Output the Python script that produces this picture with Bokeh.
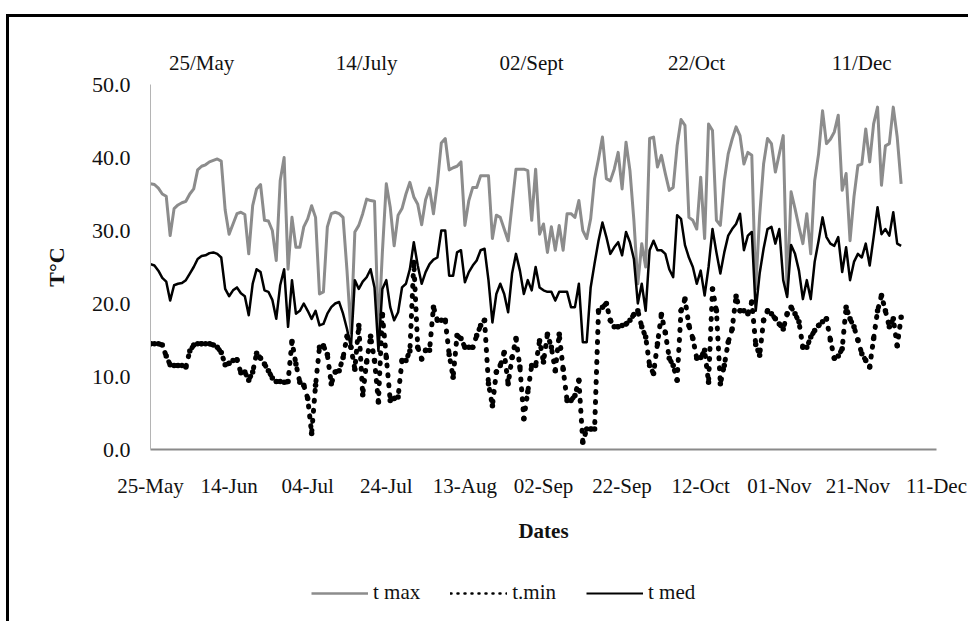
from bokeh.plotting import figure
from bokeh.layouts import column
from bokeh.models import (ColumnDataSource, FixedTicker, Range1d, LinearAxis,
                          Legend, LegendItem, PrintfTickFormatter)
from bokeh.embed import file_html
from bokeh.resources import INLINE

# Daily temperatures (degrees C) from 25-May
tmax = [36.4, 36.3, 35.8, 35.0, 34.7, 29.3, 33.0, 33.5, 33.8, 34.0,
        35.0, 35.7, 38.3, 38.8, 39.0, 39.4, 39.6, 39.8, 39.5, 32.8,
        29.5, 30.9, 32.3, 32.5, 32.2, 26.8, 33.4, 35.7, 36.3, 31.4,
        31.3, 30.0, 25.9, 36.8, 40.0, 24.7, 31.8, 27.7, 27.7, 30.5,
        31.6, 33.4, 31.8, 21.3, 21.6, 30.5, 32.3, 32.5, 32.3, 31.8,
        24.5, 16.0, 29.8, 30.7, 32.3, 34.3, 34.1, 34.0, 16.0, 27.0,
        36.4, 33.2, 27.9, 32.1, 33.0, 35.0, 36.6, 34.6, 33.6, 30.8,
        34.2, 35.8, 32.3, 36.5, 42.0, 42.6, 38.3, 38.6, 38.8, 39.4,
        30.7, 34.1, 35.9, 35.9, 37.5, 37.5, 37.5, 28.9, 32.1, 31.8,
        30.2, 28.6, 33.5, 38.4, 38.4, 38.4, 38.2, 31.4, 38.4, 29.5,
        30.9, 27.0, 30.5, 27.3, 30.7, 27.3, 32.3, 32.3, 31.8, 34.1,
        30.0, 28.9, 31.6, 37.1, 39.8, 42.8, 37.1, 36.8, 38.4, 40.7,
        35.7, 42.1, 38.2, 31.4, 22.7, 28.2, 25.0, 42.6, 42.8, 38.7,
        40.3, 37.8, 35.5, 35.9, 41.6, 45.2, 44.4, 31.8, 31.4, 30.2,
        37.3, 28.9, 44.6, 43.7, 31.4, 30.7, 36.8, 40.5, 42.5, 44.2,
        43.0, 39.1, 40.7, 40.3, 22.0, 32.0, 39.1, 42.6, 41.9, 38.0,
        40.5, 43.0, 21.3, 35.3, 33.0, 30.5, 28.2, 32.3, 26.8, 36.8,
        40.5, 46.4, 41.9, 42.5, 43.5, 45.8, 35.5, 37.8, 28.6, 34.6,
        38.9, 39.1, 43.9, 39.4, 44.6, 46.9, 36.2, 41.6, 41.9, 46.9,
        42.8, 36.4]

tmin = [14.5, 14.5, 14.5, 14.3, 12.8, 11.6, 11.5, 11.5, 11.5, 11.3,
        13.5, 14.3, 14.5, 14.5, 14.5, 14.5, 14.3, 14.0, 13.3, 11.6,
        11.8, 12.2, 12.3, 10.5, 10.6, 9.5, 10.6, 13.2, 12.5, 11.7,
        10.8, 9.8, 9.3, 9.3, 9.2, 9.3, 14.8, 11.7, 9.2, 8.8,
        7.0, 2.2, 8.8, 14.0, 14.2, 13.0, 9.0, 10.6, 10.8, 12.6,
        15.5, 14.0, 11.0, 17.0, 7.5, 12.0, 15.5, 12.2, 6.5, 18.5,
        12.6, 6.7, 7.0, 7.2, 12.2, 12.2, 13.5, 25.6, 14.0, 12.4,
        13.6, 13.6, 19.5, 17.7, 17.7, 17.7, 13.0, 9.9, 15.6, 15.2,
        14.0, 14.0, 14.0, 15.6, 17.0, 17.7, 9.0, 6.0, 10.6, 11.5,
        13.3, 9.0, 12.6, 15.2, 11.3, 4.2, 7.9, 11.5, 11.5, 14.9,
        12.0, 15.8, 14.0, 10.8, 15.8, 11.0, 6.7, 6.7, 7.4, 9.5,
        1.0, 2.8, 2.8, 2.8, 19.0, 19.5, 20.0, 17.7, 16.8, 16.8,
        17.0, 17.2, 17.7, 18.5, 19.0, 16.8, 15.4, 11.5, 10.4, 14.5,
        18.5, 16.0, 12.5, 11.5, 9.5, 19.0, 20.6, 17.0, 15.2, 12.5,
        12.6, 13.6, 9.2, 22.0, 19.0, 9.0, 11.5, 14.7, 16.5, 21.0,
        19.0, 19.0, 18.6, 20.2, 14.4, 12.9, 17.7, 19.0, 18.6, 17.9,
        17.2, 16.5, 18.6, 19.5, 18.6, 17.5, 14.0, 14.0, 15.4, 16.3,
        17.0, 17.5, 17.9, 15.0, 12.5, 12.8, 13.8, 19.5, 17.9, 16.8,
        15.0, 13.1, 12.2, 11.3, 15.2, 19.0, 21.1, 19.0, 16.8, 17.9,
        14.2, 18.1]

tmed = [25.4, 25.2, 24.5, 23.5, 23.0, 20.4, 22.5, 22.7, 22.8, 23.2,
        24.1, 25.0, 26.1, 26.5, 26.6, 26.9, 27.0, 26.8, 26.3, 22.0,
        21.0, 21.8, 22.2, 21.4, 21.0, 18.4, 22.7, 24.7, 24.3, 21.8,
        21.6, 20.5, 17.9, 22.5, 24.7, 16.8, 23.2, 18.6, 19.0, 20.0,
        19.0, 17.9, 19.0, 17.0, 17.2, 18.6, 19.5, 20.0, 20.2, 18.6,
        16.5, 14.0, 23.2, 22.0, 23.0, 23.6, 24.7, 22.2, 13.5, 22.0,
        23.2, 19.5, 17.7, 18.8, 22.2, 22.7, 24.7, 28.4, 25.2, 22.7,
        24.3, 25.4, 26.0, 26.3, 30.0, 30.0, 23.8, 23.8, 27.0, 27.3,
        22.9, 24.3, 25.2, 25.9, 27.3, 27.5, 23.2, 17.4, 21.3, 22.7,
        21.3, 18.8, 24.1, 26.8, 24.5, 21.3, 23.2, 21.8, 25.0, 22.2,
        21.8, 21.6, 21.6, 20.4, 21.6, 21.6, 21.6, 19.5, 19.5, 22.7,
        14.7, 14.7, 22.2, 25.5, 28.6, 31.1, 29.1, 26.8, 27.7, 28.4,
        26.6, 29.8, 28.4, 26.1, 20.0, 22.7, 19.0, 27.3, 28.6, 27.3,
        27.3, 26.8, 24.7, 23.6, 32.1, 31.6, 28.0, 26.3, 25.0, 22.7,
        24.5, 21.1, 25.0, 30.2, 27.0, 24.1, 27.0, 29.3, 30.2, 30.9,
        32.3, 27.3, 29.3, 29.8, 19.0, 24.1, 27.5, 30.2, 30.5, 28.2,
        30.2, 23.2, 20.9, 28.0, 26.8, 24.5, 20.6, 23.2, 20.6, 25.7,
        28.6, 31.8, 29.1, 28.2, 27.9, 29.1, 24.3, 27.7, 23.2, 25.7,
        26.8, 26.3, 28.2, 25.2, 29.1, 33.2, 29.5, 30.2, 29.3, 32.5,
        28.2, 27.9]

x_tick_days = [0, 20, 40, 60, 80, 100, 120, 140, 160, 180, 200]
x_tick_labels = ["25-May", "14-Jun", "04-Jul", "24-Jul", "13-Aug", "02-Sep",
                 "22-Sep", "12-Oct", "01-Nov", "21-Nov", "11-Dec"]
top_tick_days = [0, 50, 100, 150, 200]
top_tick_labels = ["25/May", "14/July", "02/Sept", "22/Oct", "11/Dec"]
y_ticks = [0, 10, 20, 30, 40, 50]
series_names = ["t max", "t.min", "t med"]

days = list(range(len(tmax)))
src = ColumnDataSource(dict(day=days, tmax=tmax, tmin=tmin, tmed=tmed))

FONT = "Liberation Serif"
GRAY = "#8c8c8c"

# ---------------- main chart ----------------
p = figure(width=968, height=550, output_backend="svg", toolbar_location=None,
           x_range=Range1d(0, 200), y_range=Range1d(0, 50),
           min_border_left=150, min_border_right=32,
           min_border_top=84, min_border_bottom=101,
           background_fill_color="white", border_fill_alpha=0,
           outline_line_color=None)
p.grid.visible = False

p.line("day", "tmax", source=src, line_color=GRAY, line_width=3, line_join="round")
p.line("day", "tmin", source=src, line_color="#000000", line_width=5,
       line_dash="1 9", line_cap="round", line_join="round")
p.scatter("day", "tmin", source=src, marker="circle", size=5.5,
          fill_color="#000000", line_color=None)
p.line("day", "tmed", source=src, line_color="#000000", line_width=2.5,
       line_join="round")

xa = p.xaxis[0]
xa.ticker = FixedTicker(ticks=x_tick_days)
xa.major_label_overrides = {d: s for d, s in zip(x_tick_days, x_tick_labels)}
xa.axis_line_color = "#8a8a8a"
xa.axis_line_width = 2
xa.major_tick_out = 0
xa.major_tick_in = 0
xa.minor_tick_line_color = None
xa.major_label_standoff = 24
xa.major_label_text_font = FONT
xa.major_label_text_font_size = "21px"
xa.major_label_text_color = "#111111"
xa.axis_label = "Dates"
xa.axis_label_text_font = FONT
xa.axis_label_text_font_size = "21px"
xa.axis_label_text_font_style = "bold"
xa.axis_label_text_color = "#111111"
xa.axis_label_standoff = 18

ya = p.yaxis[0]
ya.ticker = FixedTicker(ticks=y_ticks)
ya.formatter = PrintfTickFormatter(format="%.1f")
ya.axis_line_color = "#b4b4b4"
ya.axis_line_width = 1
ya.major_tick_out = 0
ya.major_tick_in = 0
ya.minor_tick_line_color = None
ya.major_label_standoff = 20
ya.major_label_text_font = FONT
ya.major_label_text_font_size = "22px"
ya.major_label_text_color = "#111111"
ya.axis_label = "T°C"
ya.axis_label_text_font = FONT
ya.axis_label_text_font_size = "22px"
ya.axis_label_text_font_style = "bold"
ya.axis_label_text_color = "#111111"
ya.axis_label_standoff = 20

p.extra_x_ranges = {"top": Range1d(-15.5, 222.7)}
ta = LinearAxis(x_range_name="top", ticker=FixedTicker(ticks=top_tick_days))
ta.major_label_overrides = {d: s for d, s in zip(top_tick_days, top_tick_labels)}
ta.axis_line_color = None
ta.major_tick_line_color = None
ta.minor_tick_line_color = None
ta.major_label_standoff = 4
ta.major_label_text_font = FONT
ta.major_label_text_font_size = "21px"
ta.major_label_text_color = "#111111"
p.add_layout(ta, "above")

# ---------------- legend strip below the chart ----------------
# same series, styled as the legend keys; its y range lies above the data so
# that only the legend shows in this strip
pl = figure(width=968, height=71, output_backend="svg", toolbar_location=None,
            x_axis_type=None, y_axis_type=None,
            x_range=Range1d(0, 200), y_range=Range1d(1000, 1001),
            min_border=0, outline_line_color=None,
            background_fill_alpha=0, border_fill_alpha=0)
pl.grid.visible = False
k_max = pl.line("day", "tmax", source=src, line_color=GRAY, line_width=2.5)
k_min = pl.line("day", "tmin", source=src, line_color="#000000", line_width=2.5,
                line_dash="1 6", line_cap="round")
k_med = pl.line("day", "tmed", source=src, line_color="#000000", line_width=2)

legend = Legend(items=[LegendItem(label=series_names[0], renderers=[k_max]),
                       LegendItem(label=series_names[1], renderers=[k_min]),
                       LegendItem(label=series_names[2], renderers=[k_med])],
                orientation="horizontal", location=(161, 16),
                glyph_width=57, glyph_height=24, label_standoff=5, spacing=30,
                padding=0, margin=0, border_line_color=None,
                background_fill_alpha=0,
                label_text_font=FONT, label_text_font_size="21px",
                label_text_color="#111111")
pl.add_layout(legend, "center")

# black frame lines (top and left) of the chart box, behind the transparent canvases
layout = column(p, pl, spacing=0,
                styles={"background-color": "white",
                        "background-image": "linear-gradient(#000, #000), linear-gradient(#000, #000)",
                        "background-size": "100% 3px, 3px 100%",
                        "background-position": "6px 14px, 6px 14px",
                        "background-repeat": "no-repeat"})

open("out.html", "w").write(file_html(layout, INLINE))
